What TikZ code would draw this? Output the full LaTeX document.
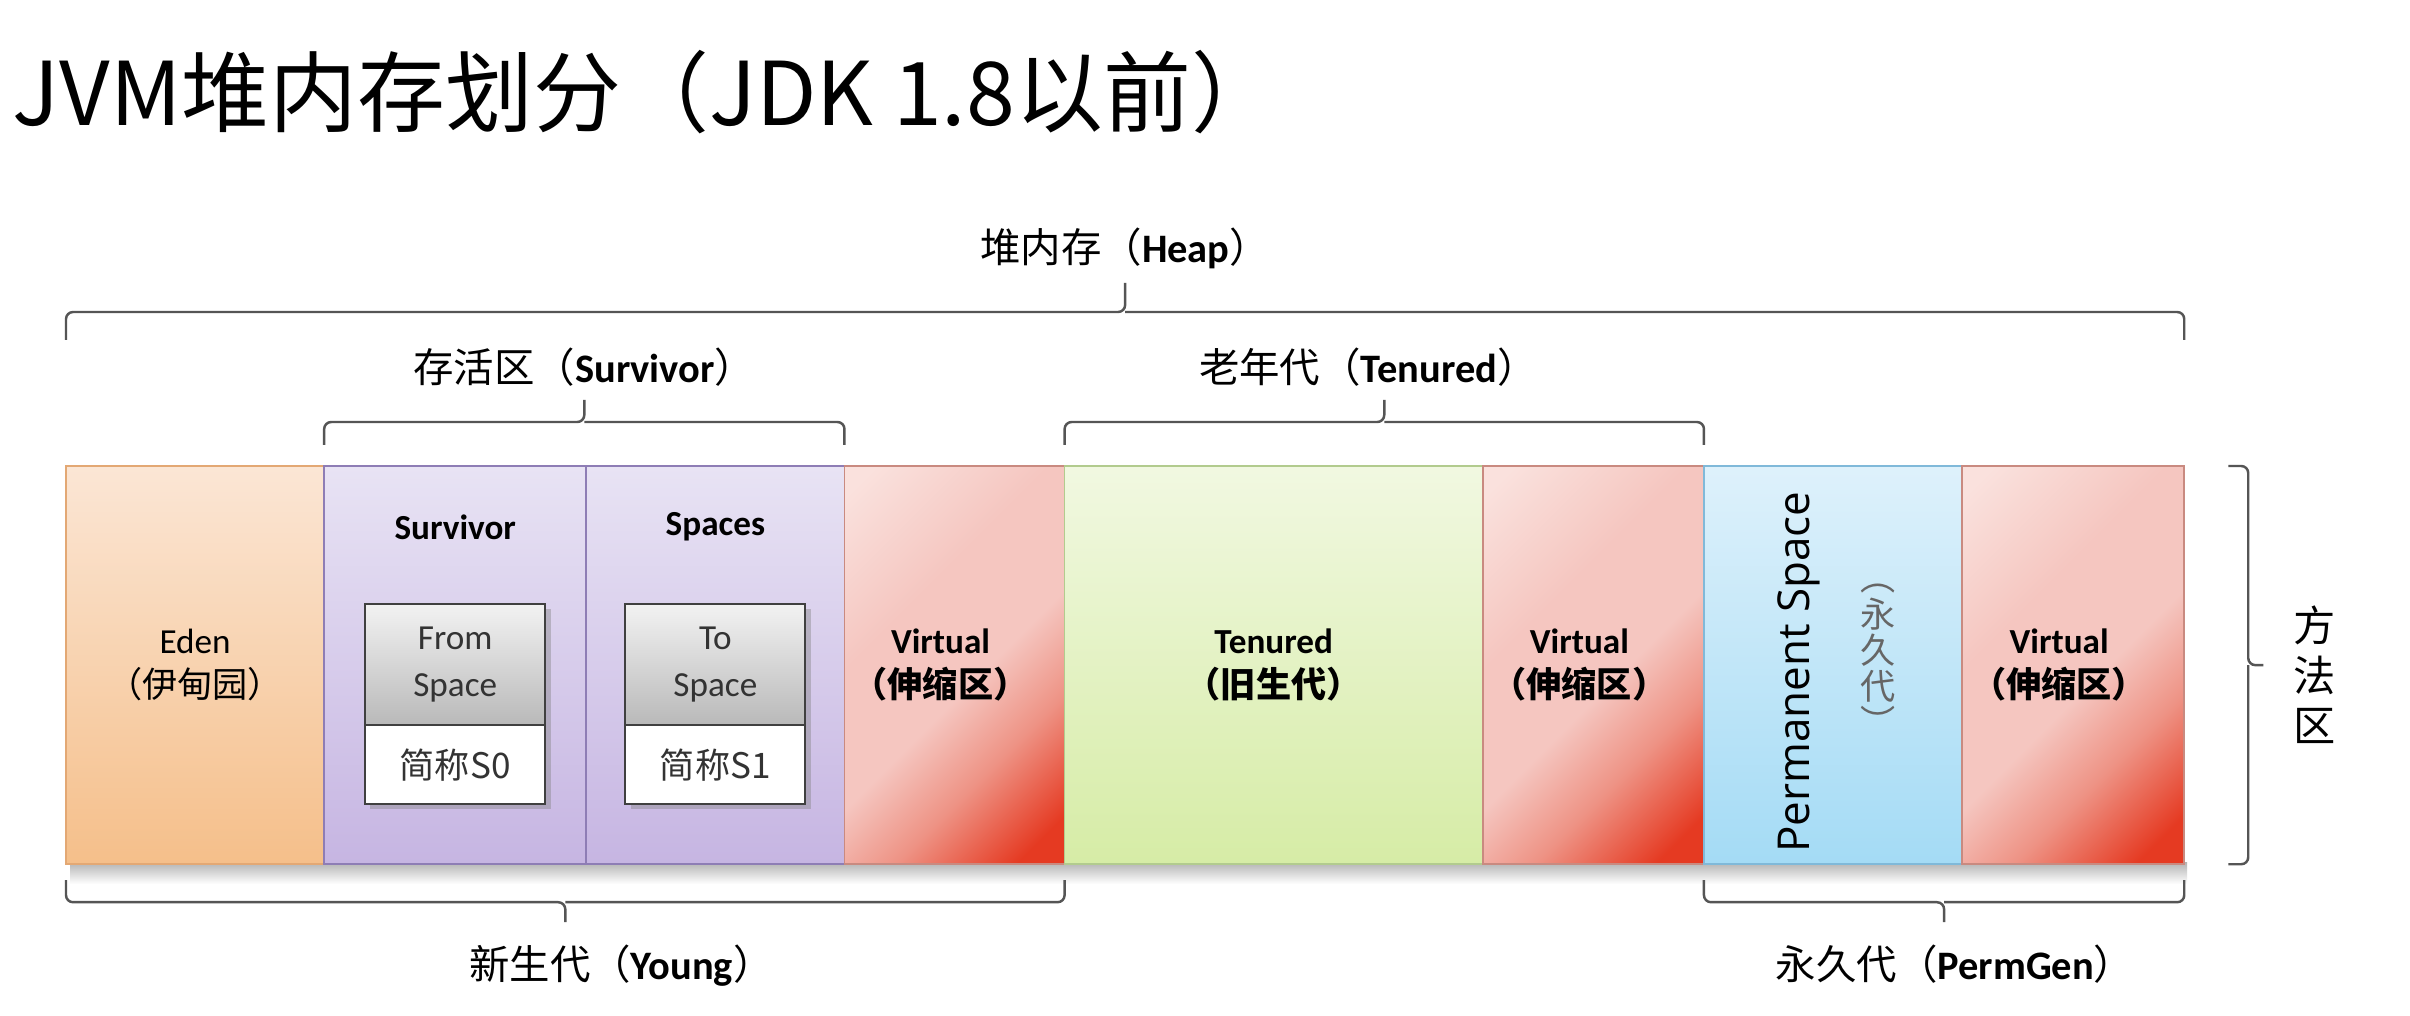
\documentclass[tikz,border=0pt]{standalone}
\usepackage{fontspec}
\setmainfont{Carlito}
\newfontfamily\cjk{Noto Sans CJK SC}
\newfontfamily\permfont{Open Sans}
\usetikzlibrary{positioning,calc,shadows}
\definecolor{edentop}{HTML}{FBE6D5}
\definecolor{edenbot}{HTML}{F5BF8A}
\definecolor{edenline}{HTML}{E3A874}
\definecolor{survtop}{HTML}{E8E3F4}
\definecolor{survbot}{HTML}{C6B5E2}
\definecolor{survline}{HTML}{8E7DB5}
\definecolor{virtpale}{HTML}{FAE1DD}
\definecolor{virtmid}{HTML}{F5C6C0}
\definecolor{virtwarm}{HTML}{EE9385}
\definecolor{virtred}{HTML}{E53A22}
\definecolor{virtline}{HTML}{C98A80}
\definecolor{tenutop}{HTML}{F1F8E1}
\definecolor{tenubot}{HTML}{D6ECA6}
\definecolor{tenuline}{HTML}{B2CB8E}
\definecolor{permtop}{HTML}{DEF1FB}
\definecolor{permbot}{HTML}{A4DBF5}
\definecolor{permline}{HTML}{80B9D9}
\definecolor{bracegray}{HTML}{555555}
\pgfdeclarehorizontalshading{virtshade}{100bp}{color(0bp)=(virtpale); color(18bp)=(virtpale);
  color(38bp)=(virtmid); color(54bp)=(virtmid); color(66bp)=(virtwarm); color(80bp)=(virtred);
  color(100bp)=(virtred)}
\newcommand{\zh}[1]{{\cjk #1}}

\begin{document}
\begin{tikzpicture}[x=0.01cm, y=0.01cm,
  col/.style={rectangle, minimum height=3.98cm, inner sep=0pt, outer sep=0pt, line width=0.5pt},
  virtcol/.style={col, draw=virtline, shading=virtshade, shading angle=-45},
  coltext/.style={align=center, font=\fontsize{10}{12.5}\selectfont, text=black},
  boldtext/.style={coltext, font=\fontsize{10}{12.5}\selectfont\bfseries},
  spacebox/.style={rectangle, draw=black!75, line width=0.6pt, minimum width=1.80cm,
    inner sep=0pt, outer sep=0pt, align=center, text=black!80,
    font=\fontsize{10}{13.4}\selectfont,
    drop shadow={shadow xshift=1.5pt, shadow yshift=-1.5pt, opacity=0.4}},
  brace/.style={draw=bracegray, line width=0.7pt, rounded corners=2pt},
  lbl/.style={font=\fontsize{11.5}{14}\selectfont, text=black}]

  % ══ PAGE ═════════════════════════════════════════════════════
  \fill[white] (0,0) rectangle (2410,-1016);
  \useasboundingbox (0,0) rectangle (2410,-1016);

  \node[anchor=west, inner sep=0pt, font=\cjk\fontsize{25}{30}\selectfont] (title) at (12,-92)
    {JVM堆内存划分（JDK 1.8以前）};

  % ══ STRIP SHADOW ═════════════════════════════════════════════
  \shade[top color=black!30, bottom color=white] (70,-862) rectangle (2187,-884);

  % ══ COLUMNS ══════════════════════════════════════════════════
  \node[col, anchor=north west, minimum width=2.58cm, draw=edenline,
        top color=edentop, bottom color=edenbot] (eden) at (66,-466) {};
  \node[col, right=0pt of eden, minimum width=2.62cm, draw=survline,
        top color=survtop, bottom color=survbot] (surv0) {};
  \node[col, right=0pt of surv0, minimum width=2.58cm, draw=survline,
        top color=survtop, bottom color=survbot] (surv1) {};
  \node[virtcol, right=0pt of surv1, minimum width=2.20cm] (virt1) {};
  \node[col, right=0pt of virt1, minimum width=4.18cm, draw=tenuline,
        top color=tenutop, bottom color=tenubot] (tenured) {};
  \node[virtcol, right=0pt of tenured, minimum width=2.21cm] (virt2) {};
  \node[col, right=0pt of virt2, minimum width=2.58cm, draw=permline,
        top color=permtop, bottom color=permbot] (perm) {};
  \node[virtcol, right=0pt of perm, minimum width=2.22cm] (virt3) {};

  % ══ COLUMN TEXTS ═════════════════════════════════════════════
  \node[coltext] (edentxt) at (eden.center) {Eden\\\zh{（伊甸园）}};
  \node[boldtext] (surv0txt) at ([yshift=-0.61cm]surv0.north) {Survivor};
  \node[boldtext] (surv1txt) at ([yshift=-0.61cm]surv1.north) {Spaces};
  \node[boldtext] (virt1txt) at ([xshift=-0.14cm]virt1.center) {Virtual\\\zh{（伸缩区）}};
  \node[boldtext] (tenutxt) at (tenured.center) {Tenured\\\zh{（旧生代）}};
  \node[boldtext] (virt2txt) at ([xshift=-0.14cm]virt2.center) {Virtual\\\zh{（伸缩区）}};
  \node[boldtext] (virt3txt) at ([xshift=-0.14cm]virt3.center) {Virtual\\\zh{（伸缩区）}};
  \node[rotate=90, font=\permfont\fontsize{12.5}{15}\selectfont] (permtxt)
    at ([xshift=-0.34cm, yshift=-0.07cm]perm.center) {Permanent Space};
  \node[align=center, text=black!60, font=\cjk\fontsize{10}{10.3}\selectfont] (permzh)
    at ([xshift=0.45cm, yshift=0.05cm]perm.center) {︵\\永\\久\\代\\︶};

  % ══ FROM / TO BOXES ══════════════════════════════════════════
  \node[spacebox, anchor=north, minimum height=1.21cm, top color=gray!10, bottom color=gray!55]
    (fromsp) at ([yshift=-1.38cm]surv0.north) {From\\Space};
  \node[spacebox, below=0pt of fromsp, minimum height=0.79cm, fill=white] (s0) {\zh{简称S0}};
  \node[spacebox, anchor=north, minimum height=1.21cm, top color=gray!10, bottom color=gray!55]
    (tosp) at ([yshift=-1.38cm]surv1.north) {To\\Space};
  \node[spacebox, below=0pt of tosp, minimum height=0.79cm, fill=white] (s1) {\zh{简称S1}};

  % ══ BRACES ABOVE ═════════════════════════════════════════════
  \coordinate (heaptip) at ($(eden.north west)!0.5!(virt3.north east)+(0,183)$);
  \draw[brace] ([yshift=1.26cm]eden.north west) |- ([yshift=-0.29cm]heaptip) -- (heaptip)
    ([yshift=-0.29cm]heaptip) -| ([yshift=1.26cm]virt3.north east);
  \node[lbl] (heaplbl) at ([yshift=0.35cm]heaptip) {\zh{堆内存（}\textbf{Heap}\zh{）}};

  \coordinate (survtip) at ($(surv0.north west)!0.5!(surv1.north east)+(0,66)$);
  \draw[brace] ([yshift=0.21cm]surv0.north west) |- ([yshift=-0.22cm]survtip) -- (survtip)
    ([yshift=-0.22cm]survtip) -| ([yshift=0.21cm]surv1.north east);
  \node[lbl] (survlbl) at ([yshift=0.33cm]survtip) {\zh{存活区（}\textbf{Survivor}\zh{）}};

  \coordinate (tenutip) at ($(tenured.north west)!0.5!(virt2.north east)+(0,66)$);
  \draw[brace] ([yshift=0.21cm]tenured.north west) |- ([yshift=-0.22cm]tenutip) -- (tenutip)
    ([yshift=-0.22cm]tenutip) -| ([yshift=0.21cm]virt2.north east);
  \node[lbl] (tenulbl) at ([xshift=-0.16cm, yshift=0.33cm]tenutip) {\zh{老年代（}\textbf{Tenured}\zh{）}};

  % ══ BRACES BELOW AND RIGHT ═══════════════════════════════════
  \coordinate (youngtip) at ($(eden.south west)!0.5!(virt1.south east)+(0,-58)$);
  \draw[brace] ([yshift=-0.16cm]eden.south west) |- ([yshift=0.20cm]youngtip) -- (youngtip)
    ([yshift=0.20cm]youngtip) -| ([yshift=-0.16cm]virt1.south east);
  \node[lbl] (younglbl) at ([xshift=0.56cm, yshift=-0.43cm]youngtip) {\zh{新生代（}\textbf{Young}\zh{）}};

  \coordinate (permtip) at ($(perm.south west)!0.5!(virt3.south east)+(0,-58)$);
  \draw[brace] ([yshift=-0.16cm]perm.south west) |- ([yshift=0.20cm]permtip) -- (permtip)
    ([yshift=0.20cm]permtip) -| ([yshift=-0.16cm]virt3.south east);
  \node[lbl] (permlbl) at ([xshift=0.11cm, yshift=-0.42cm]permtip) {\zh{永久代（}\textbf{PermGen}\zh{）}};

  \coordinate (methtip) at ($(virt3.north east)!0.5!(virt3.south east)+(79,0)$);
  \draw[brace] ([xshift=0.44cm]virt3.north east) -| ([xshift=-0.15cm]methtip) -- (methtip)
    ([xshift=-0.15cm]methtip) |- ([xshift=0.44cm]virt3.south east);
  \node[align=center, font=\cjk\fontsize{12}{14.2}\selectfont] (methlbl)
    at ([xshift=0.51cm, yshift=-0.1cm]methtip) {方\\法\\区};

\end{tikzpicture}
\end{document}
